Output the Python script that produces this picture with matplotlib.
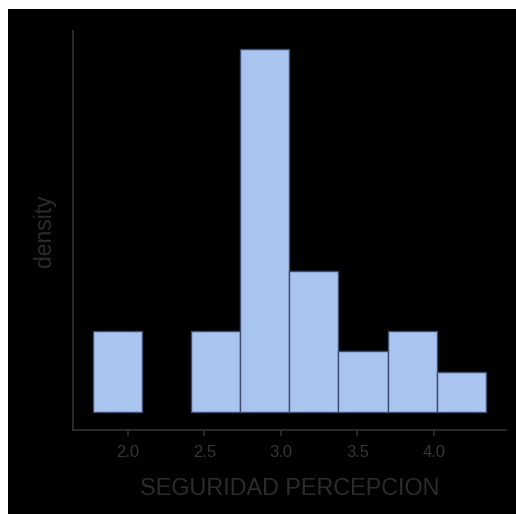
import numpy as np
import matplotlib.pyplot as plt
from matplotlib.patches import Rectangle

# histogram of perceived security scores
bin_edges = np.linspace(1.77, 4.34, 9)
bin_counts = [4, 0, 4, 18, 7, 3, 4, 2]
xticks = [2.0, 2.5, 3.0, 3.5, 4.0]
xlabel = "SEGURIDAD PERCEPCION"
ylabel = "density"

plt.rcParams['font.family'] = ['Liberation Sans', 'DejaVu Sans']

fig = plt.figure(figsize=(5.16, 5.14), dpi=100, facecolor='black')
# thin white strips along the top and left edges
fig.patches.append(Rectangle((0, 0), 8 / 516, 1, transform=fig.transFigure,
                             facecolor='white', edgecolor='none'))
fig.patches.append(Rectangle((0, 1 - 9 / 514), 1, 9 / 514, transform=fig.transFigure,
                             facecolor='white', edgecolor='none'))

ax = fig.add_axes([73 / 516, 1 - 430 / 514, 432.6 / 516, 399 / 514])
ax.set_facecolor('black')

centers = (bin_edges[:-1] + bin_edges[1:]) / 2
dens, _, patches = ax.hist(centers, bins=bin_edges, weights=bin_counts, density=True,
                           color='#a8c4ef', edgecolor='#3f4d70', linewidth=1.0)
# empty bins get no outline
for p, c in zip(patches, bin_counts):
    if c == 0:
        p.set_linewidth(0)

span = bin_edges[-1] - bin_edges[0]
ax.set_xlim(bin_edges[0] - 0.05 * span, bin_edges[-1] + 0.05 * span)
top = max(dens)
ax.set_ylim(-0.05 * top, 1.05 * top)

for s in ['top', 'right']:
    ax.spines[s].set_visible(False)
for s in ['left', 'bottom']:
    ax.spines[s].set_color('#2e2e2e')
    ax.spines[s].set_linewidth(1.3)

ax.set_xticks(xticks)
ax.set_xticklabels([f"{t:.1f}" for t in xticks])
ax.set_yticks([])
ax.tick_params(axis='x', colors='#2e2e2e', labelcolor='#353535', length=4,
               width=1.2, labelsize=12, pad=7)

ax.set_xlabel(xlabel, color='#2c2c2c', fontsize=16.8, labelpad=12)
ax.set_ylabel(ylabel, color='#2c2c2c', fontsize=16.5, labelpad=12)

fig.savefig('out.png', dpi=100, facecolor=fig.get_facecolor())
